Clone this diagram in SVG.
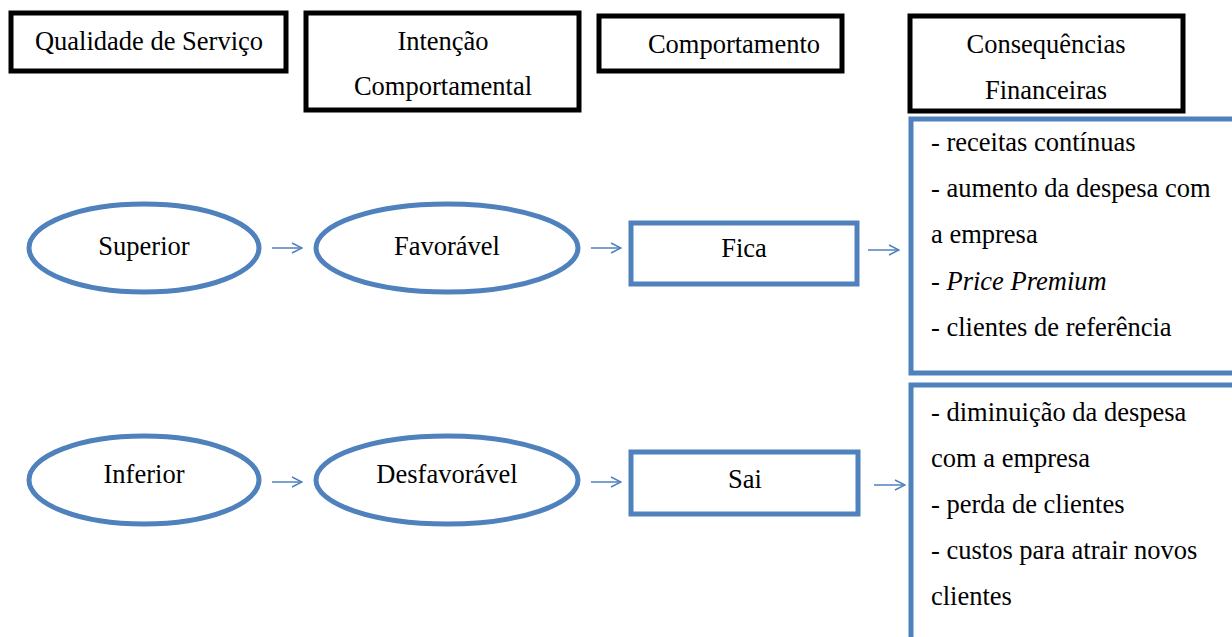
<svg xmlns="http://www.w3.org/2000/svg" width="1232" height="637" viewBox="0 0 1232 637" font-family="'Liberation Serif', 'Times New Roman', Tinos, 'DejaVu Serif', serif">
<defs>
<style>
text{font-family:'Liberation Serif','Times New Roman',Tinos,'DejaVu Serif',serif;font-size:26.5px;fill:#000}
.c{text-anchor:middle}
.hdr{fill:#fff;stroke:#000;stroke-width:5}
.blue{fill:#fff;stroke:#4F81BD;stroke-width:5}
.con{stroke:#4F81BD;stroke-width:1.5;fill:none;marker-end:url(#ah)}
</style>
<marker id="ah" viewBox="0 0 12 12" refX="11" refY="6" markerWidth="12" markerHeight="12" markerUnits="userSpaceOnUse" orient="auto">
<path d="M1,1 L11,6 L1,11" fill="none" stroke="#4F81BD" stroke-width="1.5"/>
</marker>
</defs>
<rect width="1232" height="637" fill="#fff"/>
<g id="h1"><rect class="hdr" x="11" y="13" width="275" height="58"/><text class="c" x="149" y="50">Qualidade de Serviço</text></g>
<g id="h2"><rect class="hdr" x="306" y="13" width="273" height="97"/><text class="c" x="443" y="50">Intenção</text><text class="c" x="443" y="95">Comportamental</text></g>
<g id="h3"><rect class="hdr" x="599" y="16" width="243" height="55"/><text class="c" x="734" y="53">Comportamento</text></g>
<g id="h4"><rect class="hdr" x="910" y="16" width="273" height="95"/><text class="c" x="1046" y="53">Consequências</text><text class="c" x="1046" y="99">Financeiras</text></g>
<g id="superior"><ellipse class="blue" cx="144" cy="248" rx="115" ry="44"/><text class="c" x="144" y="255">Superior</text></g>
<g id="favoravel"><ellipse class="blue" cx="447" cy="248" rx="131" ry="44"/><text class="c" x="447" y="255">Favorável</text></g>
<g id="fica"><rect class="blue" x="631" y="223" width="226" height="61"/><text class="c" x="744" y="257">Fica</text></g>
<g id="cons1"><rect class="blue" x="911" y="119" width="330" height="254"/>
<text x="931" y="151">- receitas contínuas</text>
<text x="931" y="197">- aumento da despesa com</text>
<text x="931" y="243">a empresa</text>
<text x="931" y="290">- <tspan font-style="italic">Price Premium</tspan></text>
<text x="931" y="336">- clientes de referência</text></g>
<g id="inferior"><ellipse class="blue" cx="144" cy="480" rx="115" ry="44"/><text class="c" x="144" y="483">Inferior</text></g>
<g id="desfavoravel"><ellipse class="blue" cx="447" cy="480" rx="131" ry="44"/><text class="c" x="447" y="483">Desfavorável</text></g>
<g id="sai"><rect class="blue" x="631" y="452" width="227" height="62"/><text class="c" x="745" y="488">Sai</text></g>
<g id="cons2"><rect class="blue" x="911" y="385" width="330" height="270"/>
<text x="931" y="421">- diminuição da despesa</text>
<text x="931" y="467">com a empresa</text>
<text x="931" y="513">- perda de clientes</text>
<text x="931" y="559">- custos para atrair novos</text>
<text x="931" y="605">clientes</text></g>
<g id="connectors">
<path class="con" d="M272,248 H302"/>
<path class="con" d="M591,248 H621"/>
<path class="con" d="M868,250 H899"/>
<path class="con" d="M272,482 H302"/>
<path class="con" d="M591,482 H621"/>
<path class="con" d="M874,485 H905"/>
</g>
</svg>
